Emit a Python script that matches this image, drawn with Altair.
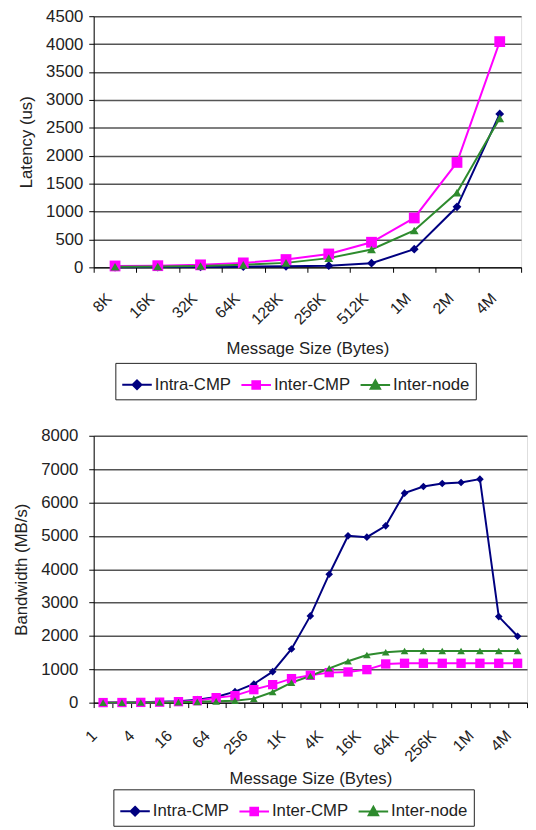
import altair as alt
import pandas as pd

series = ["Intra-CMP", "Inter-CMP", "Inter-node"]
colors = ["#000080", "#FF00FF", "#2E8B2E"]
marker_shapes = ["diamond", "square", "triangle-up"]
legend_paths = [
    "M-1,0H1M0,-0.3L0.3,0L0,0.3L-0.3,0Z",
    "M-1,0H1M-0.26,-0.26H0.26V0.26H-0.26Z",
    "M-1,0H1M0,-0.32L0.32,0.26H-0.32Z",
]

# ---- Latency panel ----
lat_sizes = ["8K", "16K", "32K", "64K", "128K", "256K", "512K", "1M", "2M", "4M"]
lat_intra = [3, 5, 8, 12, 20, 30, 75, 325, 1085, 2750]
lat_inter_cmp = [25, 30, 45, 80, 140, 240, 450, 885, 1880, 4045]
lat_inter_node = [10, 15, 25, 45, 80, 165, 320, 660, 1340, 2670]
lat_ticks = [0, 500, 1000, 1500, 2000, 2500, 3000, 3500, 4000, 4500]

# ---- Bandwidth panel ----
bw_sizes = ["1", "2", "4", "8", "16", "32", "64", "128", "256", "512",
            "1K", "2K", "4K", "8K", "16K", "32K", "64K", "128K", "256K", "512K",
            "1M", "2M", "4M"]
bw_labels = ["1", "4", "16", "64", "256", "1K", "4K", "16K", "64K", "256K", "1M", "4M"]
bw_intra = [3, 6, 12, 24, 45, 90, 170, 330, 560, 930, 1610, 2600, 3850, 5000,
            4960, 5300, 6280, 6480, 6570, 6600, 6700, 2580, 1990]
bw_inter_cmp = [2, 4, 8, 15, 30, 60, 150, 210, 390, 540, 720, 820, 900, 920,
                990, 1160, 1180, 1180, 1180, 1180, 1180, 1180, 1180]
bw_inter_node = [1, 2, 4, 8, 15, 25, 40, 60, 120, 320, 600, 800, 1030, 1240,
                 1430, 1510, 1550, 1550, 1550, 1550, 1550, 1550, 1550]
bw_ticks = [0, 1000, 2000, 3000, 4000, 5000, 6000, 7000, 8000]

FONT = "Liberation Sans"


def to_long(sizes, values):
    rows = []
    for s, vals in zip(series, values):
        for i, (sz, v) in enumerate(zip(sizes, vals)):
            rows.append({"size": sz, "idx": i, "series": s, "value": v})
    return pd.DataFrame(rows)


def panel(df, sizes, labels, ytitle, yticks, width, height, msize,
          legend_x, legend_y, ylabel_pad, xlabel_pad, xtitle_pad, xlabel_off):
    label_list = "[" + ",".join("'%s'" % l for l in labels) + "]"
    x = alt.X(
        "size:N", sort=sizes, bandPosition=0.5,
        scale=alt.Scale(type="band", paddingInner=0, paddingOuter=0),
        axis=alt.Axis(
            title="Message Size (Bytes)", labelAngle=-45, tickBand="extent",
            labelExpr="indexof(%s, datum.value) >= 0 ? datum.value : ''" % label_list,
            grid=False, domainColor="#000", tickColor="#000", tickSize=5,
            labelFont=FONT, labelFontSize=16, labelColor="#222",
            labelPadding=xlabel_pad, labelOffset=xlabel_off,
            titleFont=FONT, titleFontSize=17, titleFontWeight="normal",
            titleColor="#222", titlePadding=xtitle_pad, labelOverlap=False,
        ),
    )
    y = alt.Y(
        "value:Q",
        scale=alt.Scale(domain=[yticks[0], yticks[-1]], nice=False),
        axis=alt.Axis(
            title=ytitle, values=yticks, format="d", grid=True, gridColor="#555",
            gridWidth=1.5, domainColor="#000", tickColor="#000", tickSize=5,
            labelFont=FONT, labelFontSize=17, labelColor="#222",
            labelPadding=ylabel_pad, titleFont=FONT, titleFontSize=17,
            titleFontWeight="normal", titleColor="#222", titlePadding=10,
        ),
    )
    color = alt.Color("series:N", scale=alt.Scale(domain=series, range=colors),
                      legend=None)
    base = alt.Chart(df)
    layers = [base.mark_line(strokeWidth=2).encode(
        x=x, y=y, color=color, order="idx:Q")]
    for s, shp in zip(series, marker_shapes):
        sz = msize * (1.5 if shp == "square" else 1.0)
        layers.append(
            base.transform_filter(alt.datum.series == s)
            .mark_point(shape=shp, filled=True, size=sz, opacity=1)
            .encode(x=x, y=y, color=color)
        )
    leg = alt.Legend(
        title=None, orient="none", legendX=legend_x, legendY=legend_y,
        direction="horizontal", strokeColor="#222", fillColor="white",
        padding=6, labelFont=FONT, labelFontSize=17, labelColor="#222",
        symbolSize=900, symbolStrokeWidth=2, columnPadding=6, labelOffset=2,
        symbolOpacity=1,
    )
    dummy = (
        base.transform_filter("false")
        .mark_point(filled=True, size=900)
        .encode(
            fill=alt.Fill("series:N", scale=alt.Scale(domain=series, range=colors), legend=leg),
            stroke=alt.Stroke("series:N", scale=alt.Scale(domain=series, range=colors), legend=leg),
            shape=alt.Shape("series:N", scale=alt.Scale(domain=series, range=legend_paths), legend=leg),
        )
    )
    layers.append(dummy)
    return alt.layer(*layers).properties(width=width, height=height)


lat_df = to_long(lat_sizes, [lat_intra, lat_inter_cmp, lat_inter_node])
bw_df = to_long(bw_sizes, [bw_intra, bw_inter_cmp, bw_inter_node])

top = panel(lat_df, lat_sizes, lat_sizes, "Latency (us)", lat_ticks, 434, 255, 80,
            22, 352, 6, 18, 14, -12)
bottom = panel(bw_df, bw_sizes, bw_labels, "Bandwidth (MB/s)", bw_ticks, 440, 271, 60,
               20, 359, 11, 20, 6, -15)

chart = (
    alt.vconcat(top, bottom, spacing=26)
    .resolve_scale(fill="independent", stroke="independent", shape="independent")
    .resolve_legend(fill="independent", stroke="independent", shape="independent")
    .properties(padding={"left": 4, "top": -8, "right": 0, "bottom": 0})
    .configure_view(stroke="#aaa", strokeWidth=1)
    .configure(background="white")
)

chart.save("out.html", embed_options={"renderer": "svg", "actions": False})
